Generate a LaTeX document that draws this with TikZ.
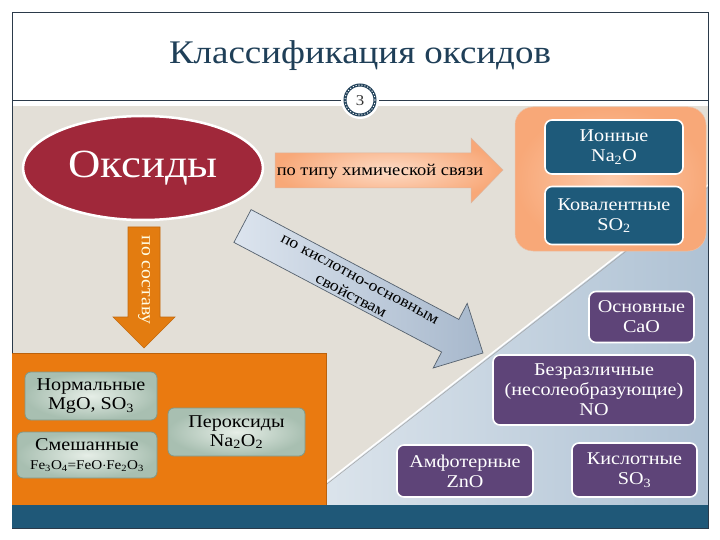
\documentclass[tikz,border=0pt]{standalone}
\usepackage{fontspec}
\setmainfont{Liberation Serif}[FakeStretch=1.12]
\usetikzlibrary{shapes.geometric}
\definecolor{framec}{HTML}{2B3A4A}
\definecolor{titlec}{HTML}{1F3F58}
\definecolor{grayarea}{HTML}{E3DFD7}
\definecolor{oxred}{HTML}{A0283A}
\definecolor{deepblue}{HTML}{1E5A7A}
\definecolor{purp}{HTML}{5E4478}
\definecolor{orpanel}{HTML}{EA7A10}
\definecolor{orarrow}{HTML}{E37C10}
\definecolor{bandc}{HTML}{1F5878}
\definecolor{greenin}{HTML}{E6EEE7}
\definecolor{greenout}{HTML}{A8BFB1}
\definecolor{greenbd}{HTML}{7F9A8A}
\definecolor{peachin}{HTML}{FCCBAC}
\definecolor{peachout}{HTML}{F8A878}
\definecolor{triL}{HTML}{DEE6ED}
\definecolor{triR}{HTML}{AFC2D4}
\definecolor{arrL}{HTML}{DCE4EE}
\definecolor{arrR}{HTML}{A7B8CC}
\begin{document}
\begin{tikzpicture}[x=1pt,y=-1pt,
  bluebox/.style={rectangle, rounded corners=7pt, draw=white, line width=1.6pt, fill=deepblue, text=white, align=center, inner sep=0pt, font=\fontsize{18}{20}\selectfont},
  purpbox/.style={rectangle, rounded corners=7pt, draw=white, line width=1.6pt, fill=purp, text=white, align=center, inner sep=0pt, font=\fontsize{18}{20}\selectfont},
  greenbox/.style={rectangle, rounded corners=6pt, draw=greenbd, line width=0.8pt, inner color=greenin, outer color=greenout, text=black, align=center, inner sep=0pt, font=\fontsize{18}{19}\selectfont},
  lbl/.style={inner sep=0pt, align=center}
]
\useasboundingbox (0,0) rectangle (720,540);
\fill[white] (0,0) rectangle (720,540);
% content area
\fill[grayarea] (12,106) rectangle (708,505);
% bluish triangle
\shade[left color=triL, right color=triR] (297,505) -- (708,185) -- (708,505) -- cycle;
\draw[white, line width=1.6pt] (297,505) -- (708,185);
\draw[gray!70, line width=0.5pt] (298,506.5) -- (708,187.5);
% frame and separator
\draw[framec, line width=0.8pt] (12,12) rectangle (708,528);
\draw[framec, line width=0.8pt] (12,100) -- (708,100);
% title
\node[lbl, text=titlec, font=\fontsize{33}{36}\selectfont] (title) at (360,56) {Классификация оксидов};
% page number
\fill[white] (360,100) circle (19);
\draw[titlec, line width=3pt] (360,100) circle (15);
\draw[white, line width=0.9pt, dash pattern=on 1.2pt off 1.8pt] (360,100) circle (15);
\node[lbl, font=\fontsize{15}{15}\selectfont, text=black!80] (num) at (360,101) {3};
% bottom band
\fill[bandc] (12,505) rectangle (708,528);
% orange panel
\fill[orpanel] (12,353) rectangle (326,505);
\draw[orpanel!80!black, line width=0.8pt] (12,353) -- (326,353) -- (326,505);
% peach box
\node[rectangle, rounded corners=18pt, inner color=peachin, outer color=peachout, draw=peachout!90!black!60, line width=0.5pt, minimum width=191pt, minimum height=144pt, inner sep=0pt] (peach) at (610.5,179) {};
\node[bluebox, minimum width=138pt, minimum height=54pt] (ion) at (614,147) {Ионные\\Na\textsubscript{2}O};
\node[bluebox, minimum width=138pt, minimum height=58pt] (cov) at (614,215.5) {Ковалентные\\SO\textsubscript{2}};
% ellipse
\node[ellipse, fill=oxred, draw=white, line width=2.5pt, minimum width=240pt, minimum height=104pt, text=white, font=\fontsize{40}{40}\selectfont] (ox) at (143,168) {Оксиды};
% right arrow (by bond type)
\shade[inner color=peachin!70!white, outer color=peachout, draw=peachout!80!black!60, line width=0.5pt]
  (275,153) -- (471,153) -- (471,138) -- (503,170) -- (471,203) -- (471,188) -- (275,188) -- cycle;
\node[lbl, font=\fontsize{16.5}{18}\selectfont] (bond) at (380,172) {по типу химической связи};
% down arrow (by composition)
\fill[orarrow, draw=orarrow!85!black, line width=0.6pt]
  (128,227) -- (160,227) -- (160,317) -- (175,317) -- (144,348) -- (113,317) -- (128,317) -- cycle;
\node[lbl, rotate=-90, text=white!90!yellow, font=\fontsize{17.5}{18}\selectfont] (comp) at (144,280) {по составу};
% diagonal arrow (acid-base)
\shade[shading angle=-30, left color=arrL, right color=arrR, draw=framec!80, line width=0.7pt]
  (251.1,209.6) -- (458.8,319.4) -- (467.2,303.4) -- (483,353) -- (433.2,368) -- (441.6,352) -- (233.9,242.4) -- cycle;
\node[lbl, rotate=-28, font=\fontsize{16}{19}\selectfont] (acid) at (355,288) {по кислотно-основным\\свойствам};
% purple boxes
\node[purpbox, minimum width=105pt, minimum height=51pt] (osn) at (641.5,317) {Основные\\CaO};
\node[purpbox, minimum width=202pt, minimum height=70pt] (bezr) at (594,390) {Безразличные\\(несолеобразующие)\\NO};
\node[purpbox, minimum width=136pt, minimum height=52pt] (amf) at (465,471) {Амфотерные\\ZnO};
\node[purpbox, minimum width=125pt, minimum height=54pt] (kisl) at (634.5,470) {Кислотные\\SO\textsubscript{3}};
% green boxes
\node[greenbox, minimum width=132pt, minimum height=48pt] (norm) at (91,396) {Нормальные\\MgO, SO\textsubscript{3}};
\node[greenbox, minimum width=140pt, minimum height=46pt] (mix) at (87,455) {Смешанные\\{\fontsize{13.5}{15}\selectfont Fe\textsubscript{3}O\textsubscript{4}=FeO$\cdot$Fe\textsubscript{2}O\textsubscript{3}}};
\node[greenbox, minimum width=137pt, minimum height=48pt] (perox) at (236.5,432) {Пероксиды\\Na\textsubscript{2}O\textsubscript{2}};
\end{tikzpicture}
\end{document}
